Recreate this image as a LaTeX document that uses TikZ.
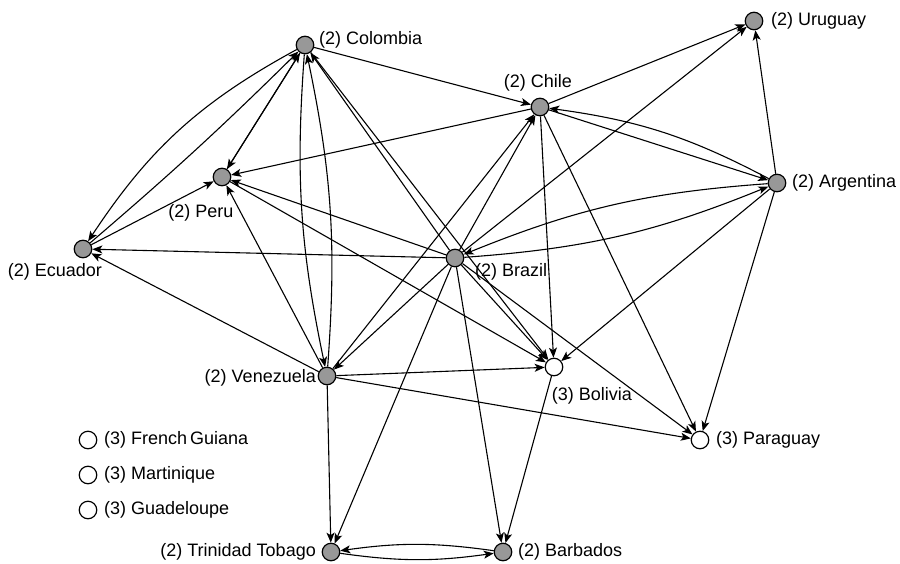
\documentclass[tikz,border=0pt]{standalone}
\usepackage{fontspec}
\setmainfont{Liberation Sans}
\usetikzlibrary{arrows.meta}
\definecolor{nodegray}{RGB}{152,152,152}
\begin{document}
\begin{tikzpicture}[x=1pt,y=-1pt,
  gnode/.style={circle,draw=black,line width=1.2pt,fill=nodegray,minimum size=17.5pt,inner sep=0pt},
  wnode/.style={circle,draw=black,line width=1.2pt,fill=white,minimum size=17.5pt,inner sep=0pt},
  lab/.style={font=\fontsize{18}{21}\selectfont,inner sep=0pt},
  link/.style={draw,line width=1.1pt,-{Stealth[length=10pt,width=8pt,inset=2.5pt]}},
]
\useasboundingbox (0,0) rectangle (900,563);

% nodes
\node[gnode] (col) at (305,45) {};
\node[gnode] (uru) at (754,21) {};
\node[gnode] (chi) at (540,107) {};
\node[gnode] (arg) at (777,183) {};
\node[gnode] (per) at (222,177) {};
\node[gnode] (ecu) at (83,249) {};
\node[gnode] (bra) at (455,258) {};
\node[gnode] (ven) at (327,376) {};
\node[wnode] (bol) at (554,367) {};
\node[wnode] (par) at (700,440) {};
\node[gnode] (tri) at (331,552) {};
\node[gnode] (bar) at (503,552) {};
\node[wnode] (fgu) at (88,440) {};
\node[wnode] (mar) at (88,475) {};
\node[wnode] (gua) at (88,510) {};

% labels
\node[lab,anchor=west] (lcol) at (319,40) {(2) Colombia};
\node[lab,anchor=west] (luru) at (771,21) {(2) Uruguay};
\node[lab] (lchi) at (538,83) {(2) Chile};
\node[lab,anchor=west] (larg) at (792,183) {(2) Argentina};
\node[lab] (lper) at (201,213) {(2) Peru};
\node[lab] (lecu) at (55,272) {(2) Ecuador};
\node[lab,anchor=west] (lbra) at (475,272) {(2) Brazil};
\node[lab,anchor=east] (lven) at (316,378) {(2) Venezuela};
\node[lab] (lbol) at (592,396) {(3) Bolivia};
\node[lab,anchor=west] (lpar) at (716,440) {(3) Paraguay};
\node[lab,anchor=east] (ltri) at (316,552) {(2) Trinidad Tobago};
\node[lab,anchor=west] (lbar) at (518,552) {(2) Barbados};
\node[lab,anchor=west] (lfgu) at (104,440) {(3) French\,Guiana};
\node[lab,anchor=west] (lmar) at (104,475) {(3) Martinique};
\node[lab,anchor=west] (lgua) at (104,510) {(3) Guadeloupe};

% edges
\path[link] (col) to[bend right=14] (ecu);
\path[link] (ecu) to[bend right=2] (col);
\path[link] (col) -- (per);
\path[link] (per) -- (col);
\path[link] (col) -- (chi);
\path[link] (col) to[bend right=8] (ven);
\path[link] (ven) to[bend right=8] (col);
\path[link] (bra) -- (col);
\path[link] (col) -- (bol);
\path[link] (chi) -- (per);
\path[link] (chi) -- (uru);
\path[link] (chi) -- (arg);
\path[link] (arg) to[bend right=10] (chi);
\path[link] (chi) -- (bol);
\path[link] (chi) -- (par);
\path[link] (bra) -- (chi);
\path[link] (ven) -- (chi);
\path[link] (bra) -- (ecu);
\path[link] (bra) -- (per);
\path[link] (bra) -- (uru);
\path[link] (bra) to[bend right=9] (arg);
\path[link] (arg) to[bend right=9] (bra);
\path[link] (bra) -- (bol);
\path[link] (bra) -- (par);
\path[link] (bra) -- (ven);
\path[link] (bra) -- (tri);
\path[link] (bra) -- (bar);
\path[link] (arg) -- (uru);
\path[link] (arg) -- (bol);
\path[link] (arg) -- (par);
\path[link] (ecu) -- (per);
\path[link] (ven) -- (ecu);
\path[link] (ven) -- (per);
\path[link] (ven) -- (bol);
\path[link] (ven) -- (par);
\path[link] (ven) -- (tri);
\path[link] (per) -- (bol);
\path[link] (bol) -- (bar);
\path[link] (tri) to[bend right=8] (bar);
\path[link] (bar) to[bend right=8] (tri);
\end{tikzpicture}
\end{document}
